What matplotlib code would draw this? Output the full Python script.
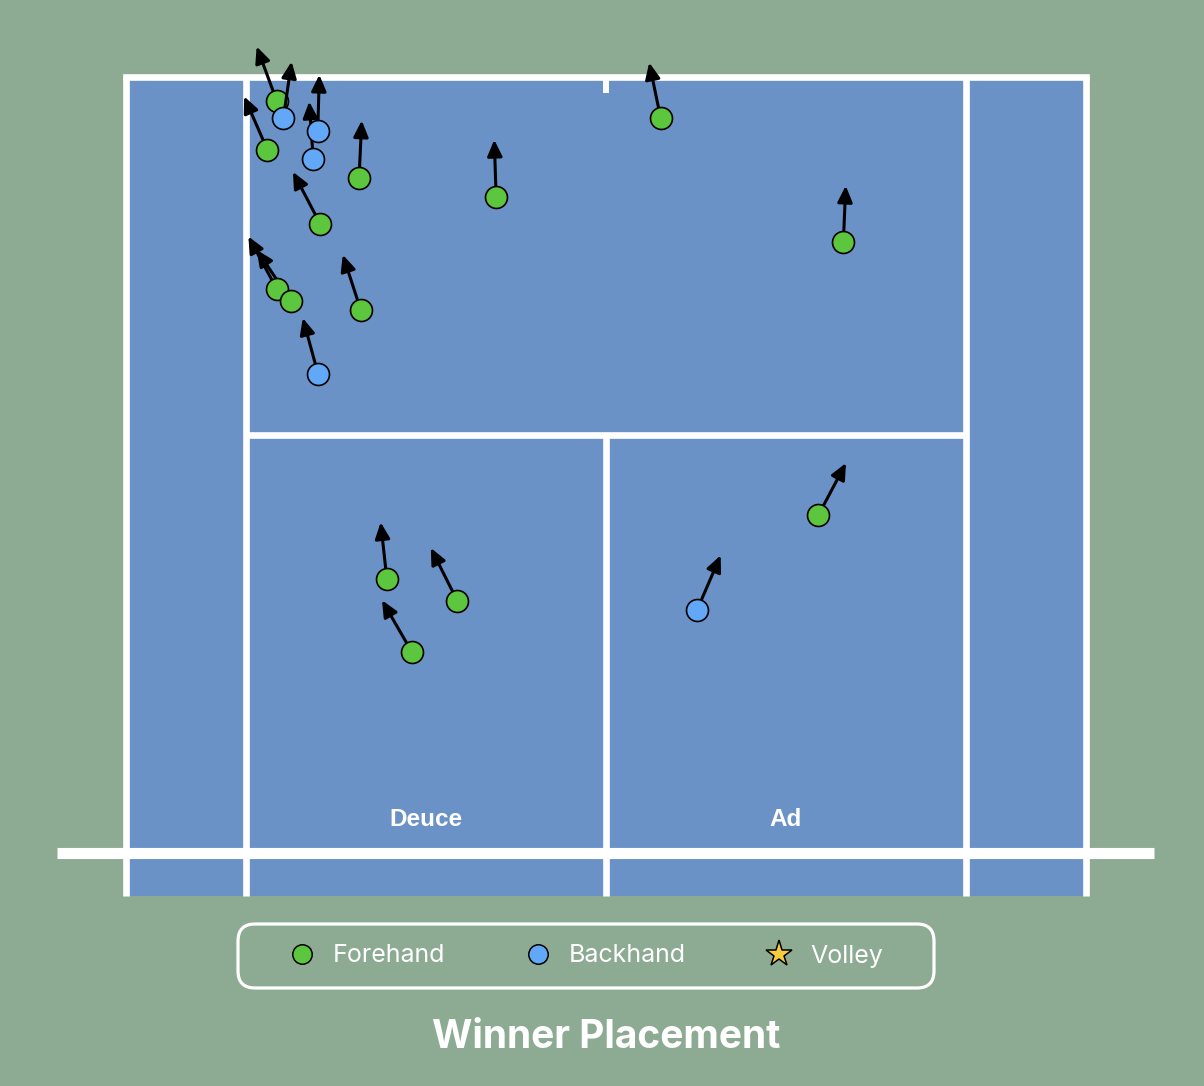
import matplotlib
matplotlib.use("Agg")
import matplotlib.pyplot as plt
from matplotlib.lines import Line2D
from matplotlib.patches import Rectangle, FancyBboxPatch

# ── colours ─────────────────────────────────────────────
BG = "#8dab93"
COURT = "#6a92c7"
FH_COL = "#5cc63e"
BH_COL = "#63a8f6"
VOLLEY_COL = "#f5cc3c"

# ── shot data (feet: x across court, y = distance from net) ──
fh_x = [-12.35, -12.70, -9.26, -10.72, -12.35, -11.82, -9.19, -4.12, 2.05,
        8.90, 7.96, -8.22, -5.58, -7.29]
fh_y = [37.83, 35.36, 33.96, 31.64, 28.37, 27.78, 27.28, 33.01, 36.95,
        30.70, 16.98, 13.80, 12.69, 10.13]
fh_end_x = [-13.10, -13.57, -9.16, -11.74, -13.41, -13.10, -9.87, -4.19, 1.62,
            8.99, 9.00, -8.45, -6.57, -8.40]
fh_end_y = [40.55, 38.04, 36.83, 34.25, 31.00, 30.33, 30.08, 35.86, 39.74,
            33.55, 19.61, 16.63, 15.34, 12.71]

bh_x = [-12.10, -10.81, -10.98, -10.80, 3.42]
bh_y = [36.95, 36.28, 34.90, 24.10, 12.24]
bh_end_x = [-11.79, -10.75, -11.13, -11.37, 4.30]
bh_end_y = [39.79, 39.13, 37.78, 26.90, 14.97]

# court geometry (ft)
HALF_DOUBLES = 18.0
HALF_SINGLES = 13.5
BASELINE = 39.0
SERVICE = 21.0
COURT_BOTTOM = -2.14

fig = plt.figure(figsize=(12.04, 10.86), dpi=100, facecolor=BG)
ax = fig.add_axes([0, 0, 1, 1])
ax.set_facecolor(BG)
ax.set_xlim(-22.725, 22.425)
ax.set_ylim(-11.71, 42.89)
ax.axis("off")

# ── court surface and lines ─────────────────────────────
ax.add_patch(Rectangle((-HALF_DOUBLES, COURT_BOTTOM), 2 * HALF_DOUBLES,
                       BASELINE - COURT_BOTTOM, facecolor=COURT,
                       edgecolor="none", zorder=1))
LW = 4.8
line_kw = dict(color="white", lw=LW, zorder=2, solid_capstyle="butt")
for sx in (-HALF_DOUBLES, HALF_DOUBLES, -HALF_SINGLES, HALF_SINGLES):
    ax.plot([sx, sx], [COURT_BOTTOM, BASELINE], **line_kw)
ax.plot([0, 0], [COURT_BOTTOM, SERVICE], **line_kw)
ax.plot([-HALF_SINGLES, HALF_SINGLES], [SERVICE, SERVICE], **line_kw)
ax.plot([-HALF_DOUBLES, HALF_DOUBLES], [BASELINE, BASELINE], color="white",
        lw=LW, zorder=2, solid_capstyle="projecting")
ax.plot([0, 0], [BASELINE, 38.2], color="white", lw=4.3, zorder=2,
        solid_capstyle="butt")
# net
ax.plot([-20.59, 20.55], [0, 0], color="white", lw=8.0, zorder=2,
        solid_capstyle="butt")

ax.text(-6.75, 1.68, "Deuce", color="white", fontsize=17.5, fontweight="bold",
        family="Liberation Sans", ha="center", va="center", zorder=3)
ax.text(6.75, 1.68, "Ad", color="white", fontsize=17.5, fontweight="bold",
        family="Liberation Sans", ha="center", va="center", zorder=3)


def draw_shots(xs, ys, exs, eys, colour, z):
    for x0, y0, x1, y1 in zip(xs, ys, exs, eys):
        ax.annotate("", xy=(x1, y1), xytext=(x0, y0),
                    arrowprops=dict(arrowstyle="-|>,head_length=0.7,head_width=0.32",
                                    color="black", lw=2.2, shrinkA=0, shrinkB=0,
                                    mutation_scale=14),
                    zorder=z)
    ax.scatter(xs, ys, s=250, color=colour, edgecolor="black", linewidth=1.2,
               zorder=z + 1)


draw_shots(fh_x, fh_y, fh_end_x, fh_end_y, FH_COL, 4)
draw_shots(bh_x, bh_y, bh_end_x, bh_end_y, BH_COL, 6)

# ── legend ─────────────────────────────────────────────
box_ax = fig.add_axes([238 / 1204, 1 - 988 / 1086, 696 / 1204, 64 / 1086])
box_ax.set_xlim(0, 696)
box_ax.set_ylim(0, 64)
box_ax.axis("off")
box_ax.add_patch(FancyBboxPatch((0, 0), 696, 64,
                                boxstyle="round,pad=0,rounding_size=17",
                                facecolor="none", edgecolor="white", lw=2.3,
                                clip_on=False))

handles = [
    Line2D([], [], ls="none", marker="o", ms=14, mfc=FH_COL, mec="black", mew=1.1),
    Line2D([], [], ls="none", marker="o", ms=14, mfc=BH_COL, mec="black", mew=1.1),
    Line2D([], [], ls="none", marker="*", ms=20, mfc=VOLLEY_COL, mec="black", mew=1.1),
]
leg = ax.legend(handles, ["Forehand", "Backhand", "Volley"], ncol=3,
                loc="center", bbox_to_anchor=(586 / 1204, 1 - 956 / 1086),
                bbox_transform=fig.transFigure, frameon=False,
                handlelength=1.0, handletextpad=0.75, columnspacing=3.2,
                borderpad=0,
                prop={"family": "Inter", "size": 18})
for t in leg.get_texts():
    t.set_color("white")

fig.text(606 / 1204, 1 - 1037 / 1086, "Winner Placement", color="white",
         fontsize=28, fontweight="bold", family="Inter",
         ha="center", va="center")

fig.savefig("out.png", dpi=100, facecolor=BG)
